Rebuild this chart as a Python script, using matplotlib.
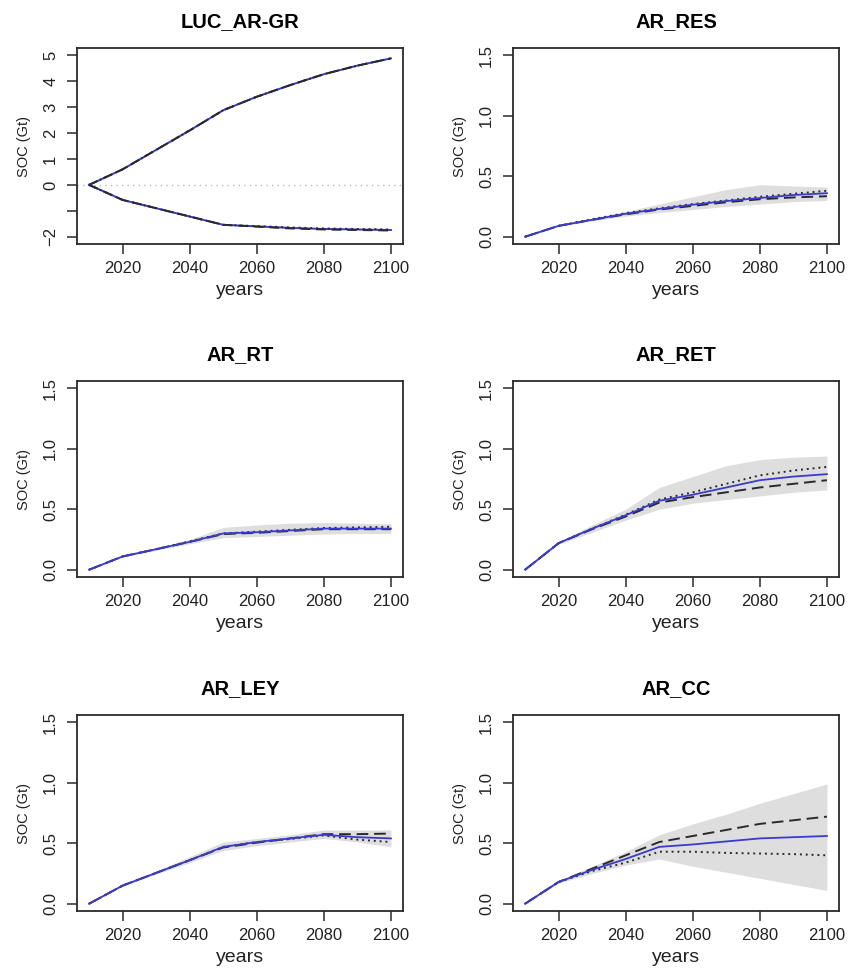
import numpy as np
import matplotlib
matplotlib.use("Agg")
import matplotlib.pyplot as plt

plt.rcParams['font.family'] = ['Liberation Sans', 'DejaVu Sans']

years = [2010, 2020, 2030, 2040, 2050, 2060, 2070, 2080, 2090, 2100]

# LUC_AR-GR: two trajectories (gain and loss)
gr_up_mean = [0, 0.60, 1.35, 2.10, 2.88, 3.40, 3.85, 4.27, 4.60, 4.88]
gr_up_dash = [0, 0.60, 1.35, 2.10, 2.88, 3.40, 3.85, 4.27, 4.60, 4.88]
gr_up_dot = [0, 0.60, 1.35, 2.10, 2.88, 3.40, 3.85, 4.27, 4.60, 4.88]
gr_lo_mean = [0, -0.58, -0.90, -1.22, -1.54, -1.60, -1.66, -1.70, -1.72, -1.74]
gr_lo_dash = [0, -0.58, -0.90, -1.22, -1.54, -1.61, -1.68, -1.72, -1.74, -1.76]
gr_lo_dot = [0, -0.58, -0.90, -1.22, -1.54, -1.59, -1.64, -1.68, -1.70, -1.72]

# other panels: mean (blue), dashed, dotted, band upper, band lower
res_mean = [0, 0.09, 0.14, 0.19, 0.23, 0.265, 0.295, 0.32, 0.345, 0.36]
res_dash = [0, 0.09, 0.14, 0.185, 0.225, 0.255, 0.285, 0.31, 0.325, 0.335]
res_dot = [0, 0.09, 0.145, 0.195, 0.235, 0.27, 0.30, 0.33, 0.355, 0.38]
res_hi = [0, 0.095, 0.155, 0.21, 0.27, 0.33, 0.39, 0.43, 0.42, 0.41]
res_lo = [0, 0.085, 0.13, 0.17, 0.20, 0.225, 0.25, 0.27, 0.29, 0.30]

rt_mean = [0, 0.11, 0.17, 0.23, 0.30, 0.31, 0.325, 0.34, 0.34, 0.34]
rt_dash = [0, 0.11, 0.17, 0.23, 0.295, 0.305, 0.32, 0.335, 0.335, 0.335]
rt_dot = [0, 0.11, 0.17, 0.235, 0.30, 0.315, 0.33, 0.345, 0.35, 0.355]
rt_hi = [0, 0.115, 0.18, 0.25, 0.35, 0.37, 0.385, 0.39, 0.385, 0.38]
rt_lo = [0, 0.105, 0.16, 0.215, 0.265, 0.275, 0.285, 0.295, 0.30, 0.30]

ret_mean = [0, 0.22, 0.34, 0.45, 0.57, 0.62, 0.68, 0.74, 0.77, 0.79]
ret_dash = [0, 0.22, 0.335, 0.44, 0.555, 0.60, 0.64, 0.68, 0.71, 0.74]
ret_dot = [0, 0.22, 0.34, 0.455, 0.58, 0.64, 0.71, 0.78, 0.82, 0.85]
ret_hi = [0, 0.23, 0.37, 0.50, 0.68, 0.77, 0.86, 0.91, 0.93, 0.94]
ret_lo = [0, 0.21, 0.31, 0.41, 0.50, 0.55, 0.58, 0.61, 0.64, 0.66]

ley_mean = [0, 0.15, 0.255, 0.36, 0.47, 0.51, 0.54, 0.57, 0.55, 0.54]
ley_dash = [0, 0.15, 0.255, 0.36, 0.465, 0.505, 0.54, 0.575, 0.575, 0.58]
ley_dot = [0, 0.15, 0.255, 0.36, 0.47, 0.51, 0.535, 0.565, 0.53, 0.51]
ley_hi = [0, 0.155, 0.27, 0.39, 0.51, 0.54, 0.57, 0.61, 0.61, 0.61]
ley_lo = [0, 0.145, 0.245, 0.34, 0.44, 0.48, 0.51, 0.54, 0.51, 0.47]

cc_mean = [0, 0.18, 0.28, 0.37, 0.47, 0.49, 0.515, 0.54, 0.55, 0.56]
cc_dash = [0, 0.18, 0.29, 0.40, 0.51, 0.56, 0.61, 0.66, 0.69, 0.72]
cc_dot = [0, 0.18, 0.27, 0.34, 0.43, 0.43, 0.42, 0.415, 0.41, 0.40]
cc_hi = [0, 0.19, 0.31, 0.43, 0.57, 0.66, 0.74, 0.83, 0.91, 0.99]
cc_lo = [0, 0.17, 0.25, 0.32, 0.37, 0.31, 0.26, 0.21, 0.16, 0.11]

panels = [
    ("AR_RES", res_mean, res_dash, res_dot, res_hi, res_lo),
    ("AR_RT", rt_mean, rt_dash, rt_dot, rt_hi, rt_lo),
    ("AR_RET", ret_mean, ret_dash, ret_dot, ret_hi, ret_lo),
    ("AR_LEY", ley_mean, ley_dash, ley_dot, ley_hi, ley_lo),
    ("AR_CC", cc_mean, cc_dash, cc_dot, cc_hi, cc_lo),
]

BLUE = "#3a3ad0"
BAND = "#dedede"
DARK = "#2a2a2a"

W, H = 848, 972
fig = plt.figure(figsize=(W / 100, H / 100), dpi=100)

# axes boxes in pixels (left, right) and (top, bottom)
lefts = [(77, 403), (513, 839)]
rows = [(48, 244), (381, 577), (715, 911)]


def make_ax(r, c):
    x0, x1 = lefts[c]
    y0, y1 = rows[r]
    return fig.add_axes([x0 / W, 1 - y1 / H, (x1 - x0) / W, (y1 - y0) / H])


def style(ax, title):
    ax.set_xlim(2006.4, 2103.6)
    ax.set_xticks([2020, 2040, 2060, 2080, 2100])
    for s in ax.spines.values():
        s.set_color(DARK)
        s.set_linewidth(1.3)
    ax.tick_params(direction='out', length=7, width=1.1, color=DARK,
                   labelsize=12, labelcolor="#222222")
    ax.tick_params(axis='x', pad=5.5)
    ax.tick_params(axis='y', pad=6.5)
    for lab in ax.get_yticklabels():
        lab.set_rotation(90)
        lab.set_va('center')
    ax.set_title(title, fontsize=14.5, fontweight='bold', pad=15)
    ax.set_xlabel("years", fontsize=14, labelpad=4, color="#222222")
    ax.set_ylabel("SOC (Gt)", fontsize=10.5, labelpad=9, color="#222222")


# panel 1
ax = make_ax(0, 0)
ax.axhline(0, color="#bbbbbb", lw=1.0, ls=(0, (1, 3)))
for m, d, t in [(gr_up_mean, gr_up_dash, gr_up_dot), (gr_lo_mean, gr_lo_dash, gr_lo_dot)]:
    ax.plot(years, m, color=BLUE, lw=1.4)
    ax.plot(years, d, color=DARK, lw=1.4, ls=(0, (5, 3)))
    ax.plot(years, t, color=DARK, lw=1.4, ls=(0, (1, 2)))
ax.set_ylim(-2.28, 5.28)
ax.set_yticks([-2, -1, 0, 1, 2, 3, 4, 5])
ax.set_yticklabels(["\u22122", "", "0", "1", "2", "3", "4", "5"])
style(ax, "LUC_AR-GR")

for i, (name, m, d, t, hi, lo) in enumerate(panels):
    idx = i + 1
    ax = make_ax(idx // 2, idx % 2)
    ax.fill_between(years, lo, hi, color=BAND, lw=0)
    ax.plot(years, d, color=DARK, lw=1.4, ls=(0, (6, 3)))
    ax.plot(years, t, color=DARK, lw=1.4, ls=(0, (1, 2)))
    ax.plot(years, m, color=BLUE, lw=1.3)
    ax.set_ylim(-0.06, 1.56)
    ax.set_yticks([0, 0.5, 1.0, 1.5])
    ax.set_yticklabels(["0.0", "0.5", "1.0", "1.5"])
    style(ax, name)

fig.savefig("out.png", dpi=100)
